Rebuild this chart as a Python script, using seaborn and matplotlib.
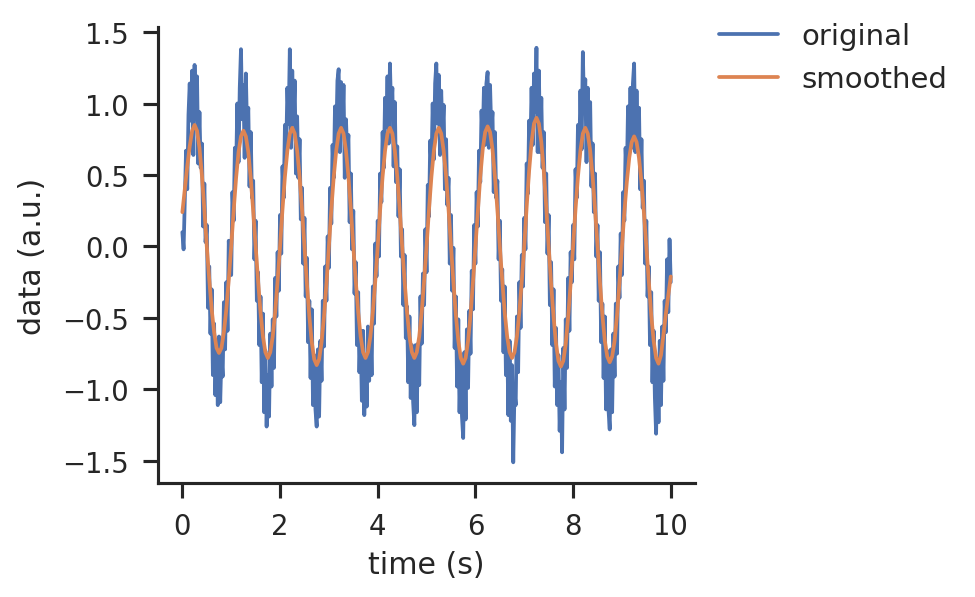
import numpy as np
import pandas as pd
import matplotlib
matplotlib.use("Agg")
import matplotlib.pyplot as plt
import seaborn as sns

# --- dados (amostragem: 0.025 s no original, 0.05 s no suavizado) ---
ORIG_STEP = 0.025
SMOOTH_STEP = 0.05

original = [
    # 0 - 1 s
    0.10, -0.02, 0.31, 0.67, 0.40, 0.92, 1.14, 0.88, 1.23, 0.64,
    1.27, 0.89, 1.19, 0.58, 0.94, 0.55, 0.72, 0.14, 0.44, 0.03,
    0.15, -0.43, -0.14, -0.61, -0.30, -0.90, -0.54, -1.04, -0.71, -1.11,
    -0.63, -1.09, -0.76, -0.91, -0.39, -0.72, -0.25, -0.59, 0.04, -0.18,
    # 1 - 2 s
    -0.20, 0.38, 0.18, 0.69, 0.52, 1.00, 0.59, 1.11, 1.38, 0.89,
    1.13, 0.62, 1.21, 0.81, 0.97, 0.42, 0.80, 0.34, 0.46, -0.09,
    0.18, -0.38, -0.18, -0.69, -0.35, -0.95, -0.47, -1.16, -0.73, -1.26,
    -0.90, -1.19, -0.61, -0.98, -0.51, -0.85, -0.22, -0.49, -0.04, -0.31,
    # 2 - 3 s
    0.22, -0.05, 0.56, 0.34, 0.85, 0.65, 1.11, 0.86, 1.38, 0.69,
    1.23, 0.86, 1.16, 0.51, 0.91, 0.48, 0.75, 0.19, 0.41, -0.12,
    0.20, -0.35, -0.08, -0.67, -0.38, -0.92, -0.44, -1.11, -0.76, -1.14,
    -1.26, -0.72, -1.19, -0.66, -0.94, -0.38, -0.70, -0.14, -0.38, 0.07,
    # 3 - 4 s
    -0.15, 0.41, 0.16, 0.71, 0.48, 0.98, 0.74, 1.16, 1.24, 0.66,
    1.15, 0.79, 1.13, 0.48, 0.89, 0.65, 0.78, 0.17, 0.51, -0.02,
    0.25, -0.33, -0.11, -0.69, -0.32, -0.88, -0.59, -1.08, -0.59, -1.18,
    -0.80, -1.12, -0.56, -0.94, -0.57, -0.90, -0.28, -0.54, 0.02, -0.21,
    # 4 - 5 s
    0.18, -0.07, 0.51, 0.31, 0.80, 0.55, 1.04, 0.84, 1.19, 0.72,
    1.28, 0.94, 1.11, 0.56, 1.01, 0.45, 0.70, 0.21, 0.54, -0.07,
    0.12, -0.41, -0.06, -0.64, -0.42, -0.95, -0.49, -1.06, -0.69, -1.09,
    -1.25, -0.69, -1.16, -0.68, -0.97, -0.35, -0.68, -0.19, -0.41, 0.12,
    # 5 - 6 s
    -0.18, 0.43, 0.21, 0.74, 0.55, 1.00, 0.61, 1.14, 1.28, 0.86,
    1.20, 0.64, 1.09, 0.78, 0.99, 0.40, 0.75, 0.29, 0.48, -0.12,
    0.22, -0.31, -0.01, -0.71, -0.35, -0.98, -0.51, -1.16, -0.79, -1.19,
    -1.34, -0.74, -1.21, -0.58, -0.99, -0.45, -0.75, -0.17, -0.44, 0.15,
    # 6 - 7 s
    -0.12, 0.38, 0.14, 0.67, 0.45, 0.95, 0.74, 1.11, 0.71, 1.14,
    1.22, 0.69, 1.13, 0.81, 0.94, 0.38, 0.80, 0.34, 0.46, -0.09,
    0.18, -0.38, -0.16, -0.74, -0.28, -0.90, -0.64, -1.18, -0.66, -1.22,
    -0.83, -1.51, -1.01, -1.11, -0.49, -0.88, -0.25, -0.57, -0.06, -0.28,
    # 7 - 8 s
    0.20, -0.02, 0.58, 0.37, 0.88, 0.68, 1.11, 0.71, 1.21, 0.94,
    1.39, 0.66, 1.23, 0.66, 1.04, 0.55, 0.80, 0.17, 0.51, -0.05,
    0.22, -0.41, -0.11, -0.69, -0.30, -0.98, -0.57, -1.11, -0.76, -1.29,
    -0.95, -1.44, -0.71, -1.14, -0.51, -0.85, -0.22, -0.59, -0.04, -0.25,
    # 8 - 9 s
    0.15, -0.09, 0.54, 0.34, 0.85, 0.62, 1.09, 0.68, 1.36, 0.96,
    1.17, 0.59, 1.11, 0.78, 1.01, 0.42, 0.72, 0.24, 0.51, -0.07,
    0.15, -0.38, -0.04, -0.67, -0.40, -0.92, -0.49, -1.14, -0.73, -1.14,
    -1.28, -0.72, -1.16, -0.61, -0.91, -0.40, -0.75, -0.14, -0.36, 0.09,
    # 9 - 10 s
    -0.20, 0.38, 0.18, 0.69, 0.48, 0.98, 0.71, 1.11, 0.69, 1.14,
    1.28, 0.66, 1.09, 0.71, 0.97, 0.40, 0.75, 0.27, 0.46, -0.12,
    0.18, -0.35, -0.14, -0.69, -0.32, -0.95, -0.59, -1.06, -1.31, -0.79,
    -1.23, -0.66, -1.11, -0.56, -0.94, -0.38, -0.60, -0.09, -0.46, 0.05,
    -0.25,
]

smoothed = [
    0.24, 0.40, 0.56, 0.70, 0.81, 0.85, 0.81, 0.69, 0.50, 0.26,
    0.00, -0.23, -0.44, -0.60, -0.71, -0.745, -0.71, -0.60, -0.44, -0.23,
    0.00, 0.25, 0.48, 0.66, 0.77, 0.81, 0.77, 0.66, 0.48, 0.25,
    0.00, -0.24, -0.46, -0.63, -0.74, -0.78, -0.74, -0.63, -0.46, -0.24,
    0.00, 0.26, 0.49, 0.67, 0.79, 0.83, 0.79, 0.67, 0.49, 0.26,
    0.00, -0.26, -0.49, -0.67, -0.79, -0.83, -0.79, -0.67, -0.49, -0.26,
    0.00, 0.26, 0.49, 0.67, 0.79, 0.83, 0.79, 0.67, 0.49, 0.26,
    0.00, -0.24, -0.46, -0.63, -0.74, -0.78, -0.74, -0.63, -0.46, -0.24,
    0.00, 0.26, 0.49, 0.67, 0.79, 0.83, 0.79, 0.67, 0.49, 0.26,
    0.00, -0.24, -0.46, -0.63, -0.74, -0.78, -0.74, -0.63, -0.46, -0.24,
    0.00, 0.26, 0.49, 0.67, 0.79, 0.83, 0.79, 0.67, 0.49, 0.26,
    0.00, -0.25, -0.48, -0.66, -0.78, -0.82, -0.78, -0.66, -0.48, -0.25,
    0.00, 0.26, 0.49, 0.68, 0.80, 0.84, 0.80, 0.68, 0.49, 0.26,
    0.00, -0.24, -0.46, -0.63, -0.74, -0.78, -0.74, -0.63, -0.46, -0.24,
    0.00, 0.28, 0.53, 0.73, 0.86, 0.90, 0.86, 0.73, 0.53, 0.28,
    0.00, -0.26, -0.49, -0.68, -0.80, -0.84, -0.80, -0.68, -0.49, -0.26,
    0.00, 0.26, 0.49, 0.67, 0.79, 0.83, 0.79, 0.67, 0.49, 0.26,
    0.00, -0.25, -0.48, -0.66, -0.77, -0.81, -0.77, -0.66, -0.48, -0.25,
    0.00, 0.24, 0.45, 0.62, 0.73, 0.77, 0.73, 0.62, 0.45, 0.24,
    0.00, -0.25, -0.48, -0.66, -0.78, -0.82, -0.76, -0.62, -0.47, -0.34,
    -0.21,
]

df_orig = pd.DataFrame({"time": np.arange(len(original)) * ORIG_STEP, "value": original})
df_smooth = pd.DataFrame({"time": np.arange(len(smoothed)) * SMOOTH_STEP, "value": smoothed})

# --- gráfico (contexto "talk", salvo a 120 dpi) ---
sns.set_theme(style="ticks", context="talk",
              rc={"xtick.major.pad": 8.4, "ytick.major.pad": 8.4, "axes.labelpad": 6})
fig = plt.figure(figsize=(8.125, 4.9833), dpi=120)
ax = fig.add_axes([0.162, 0.1906, 0.551, 0.7625])

pal = sns.color_palette("deep")
sns.lineplot(data=df_orig, x="time", y="value", color=pal[0], label="original",
             estimator=None, ax=ax)
sns.lineplot(data=df_smooth, x="time", y="value", color=pal[1], label="smoothed",
             estimator=None, ax=ax)

ax.set_xlabel("time (s)")
ax.set_ylabel("data (a.u.)", labelpad=9)
ax.set_xticks([0, 2, 4, 6, 8, 10])
ax.set_yticks([-1.5, -1.0, -0.5, 0.0, 0.5, 1.0, 1.5])
ax.legend(loc="upper left", bbox_to_anchor=(0.996, 1.068), frameon=False, fontsize=17.5)
sns.despine(ax=ax)

fig.savefig("out.png", dpi=120)
